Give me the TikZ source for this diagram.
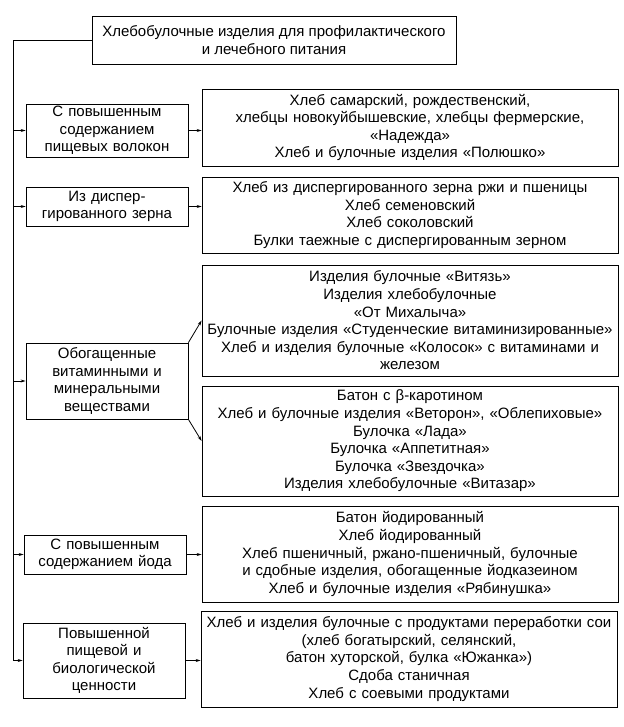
\documentclass[tikz,border=0pt]{standalone}
\usepackage{fontspec}
\setmainfont{Liberation Sans}
\usetikzlibrary{arrows.meta, positioning}

\begin{document}
\begin{tikzpicture}[x=1pt, y=-1pt,
  box/.style={draw, line width=0.8pt, align=center, inner sep=1.5pt,
              font=\fontsize{15}{17.6}\selectfont},
  catbox/.style={box, minimum width=162pt, text width=158pt},
  listbox/.style={box, minimum width=416pt, text width=412pt},
  arrow/.style={-{Stealth[length=5pt, width=3pt]}, line width=0.8pt}
]
\useasboundingbox (0,0) rectangle (623,727);

\node[box, minimum width=364pt, minimum height=48pt] (head) at (274,40) {
  Хлебобулочные изделия для профилактического\\
  и лечебного питания
};

% left column
\node[catbox, minimum height=53pt] (cat1) at (107,130.5) {
  С повышенным\\ содержанием\\ пищевых волокон
};
\node[catbox, minimum height=39pt] (cat2) at (107,206.5) {
  Из диспер-\\ гированного зерна
};
\node[catbox, minimum height=76pt] (cat3) at (107,381) {
  Обогащенные\\ витаминными и\\ минеральными\\ веществами
};
\node[catbox, minimum height=39pt] (cat4) at (105,554.5) {
  С повышенным\\ содержанием йода
};
\node[catbox, minimum height=75pt] (cat5) at (104,660.5) {
  Повышенной\\ пищевой и\\ биологической\\ ценности
};

% right column
\node[listbox, minimum height=77pt] (list1) at (410,127.5) {
  Хлеб самарский, рождественский,\\
  хлебцы новокуйбышевские, хлебцы фермерские,\\
  «Надежда»\\
  Хлеб и булочные изделия «Полюшко»
};
\node[listbox, minimum height=76pt] (list2) at (410,215) {
  Хлеб из диспергированного зерна ржи и пшеницы\\
  Хлеб семеновский\\
  Хлеб соколовский\\
  Булки таежные с диспергированным зерном
};
\node[listbox, minimum height=111pt] (list3) at (410,320.5) {
  Изделия булочные «Витязь»\\
  Изделия хлебобулочные\\
  «От Михалыча»\\
  Булочные изделия «Студенческие витаминизированные»\\
  Хлеб и изделия булочные «Колосок» с витаминами и\\
  железом
};
\node[listbox, minimum height=110pt] (list4) at (410,441) {
  Батон с β-каротином\\
  Хлеб и булочные изделия «Веторон», «Облепиховые»\\
  Булочка «Лада»\\
  Булочка «Аппетитная»\\
  Булочка «Звездочка»\\
  Изделия хлебобулочные «Витазар»
};
\node[listbox, minimum height=96pt] (list5) at (410,554) {
  Батон йодированный\\
  Хлеб йодированный\\
  Хлеб пшеничный, ржано-пшеничный, булочные\\
  и сдобные изделия, обогащенные йодказеином\\
  Хлеб и булочные изделия «Рябинушка»
};
\node[listbox, minimum height=96pt] (list6) at (409,659) {
  Хлеб и изделия булочные с продуктами переработки сои\\
  (хлеб богатырский, селянский,\\
  батон хуторской, булка «Южанка»)\\
  Сдоба станичная\\
  Хлеб с соевыми продуктами
};

% spine
\coordinate (spine) at (13,40);
\draw[arrow] (head.west) -- (spine) |- (cat5.west);
\foreach \c in {cat1, cat2, cat3, cat4}
  \draw[arrow] (spine |- \c.west) -- (\c.west);

\foreach \c/\l in {cat1/list1, cat2/list2, cat4/list5, cat5/list6}
  \draw[arrow] (\c.east) -- (\c.east -| \l.west);

\draw[arrow] (cat3.north east) -- (list3.west);
\draw[arrow] (cat3.south east) -- (list4.west);

\end{tikzpicture}
\end{document}
